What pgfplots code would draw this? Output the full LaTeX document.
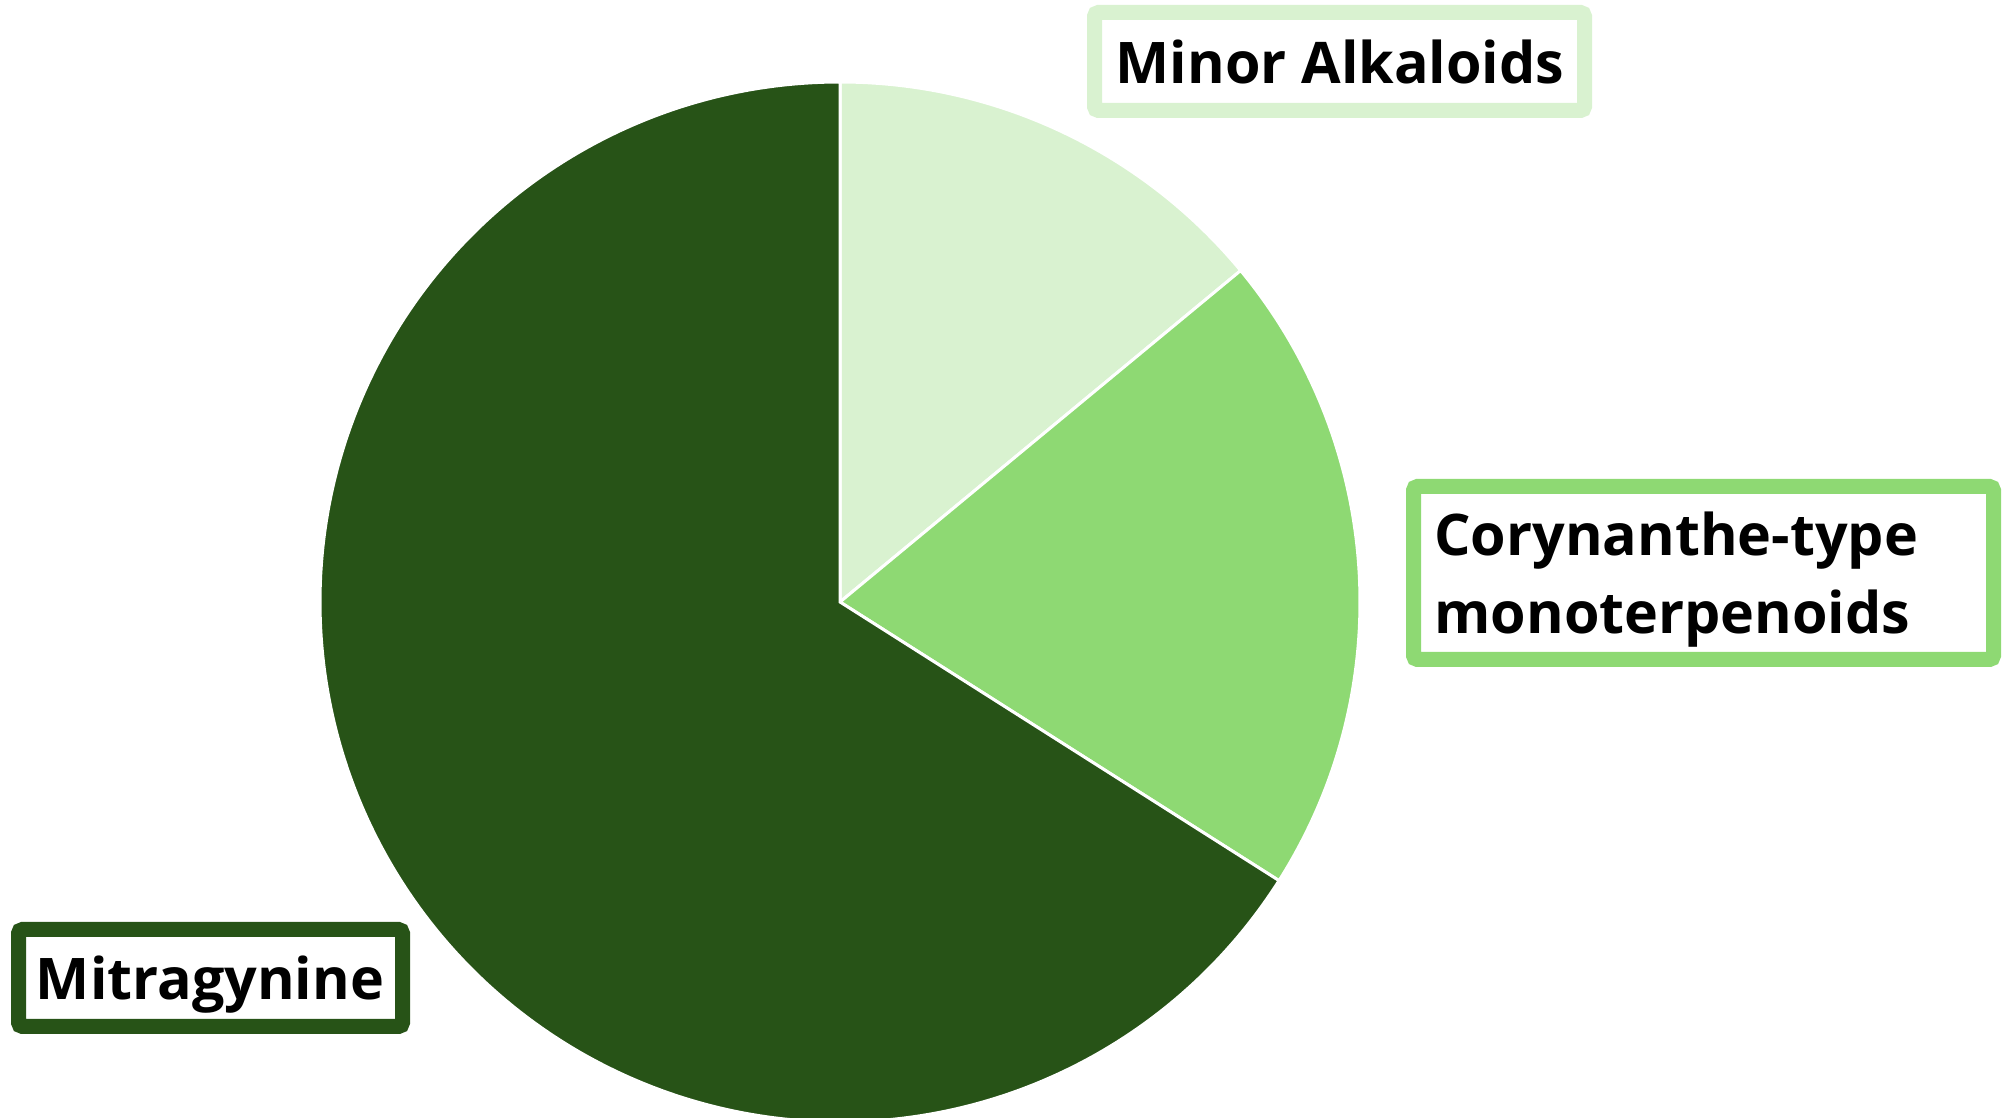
\documentclass[border=0pt]{standalone}
\usepackage{pgfplots}
\pgfplotsset{compat=1.18}
\usepackage{fontspec}
\setmainfont{Open Sans}
\definecolor{cLight}{HTML}{D9F2D0}
\definecolor{cMid}{HTML}{8ED973}
\definecolor{cDark}{HTML}{275317}
% slice values (percent), clockwise from 12 o'clock
\def\vA{14}% Minor Alkaloids
\def\vB{20}% Corynanthe-type monoterpenoids
\def\vC{66}% Mitragynine
\pgfmathsetmacro\aA{90}
\pgfmathsetmacro\aB{\aA-3.6*\vA}
\pgfmathsetmacro\aC{\aB-3.6*\vB}
\pgfmathsetmacro\aD{\aC-3.6*\vC}
\def\cx{840}\def\cy{516}\def\rr{520}
\begin{document}
\begin{tikzpicture}
\begin{axis}[
  scale only axis, width=1007.5pt, height=559pt,
  xmin=0, xmax=2015, ymin=0, ymax=1118,
  hide axis,
]
\addplot[fill=cLight, draw=white, line width=1.5pt, domain=\aB:\aA, samples=120]
  ({\cx+\rr*cos(x)},{\cy+\rr*sin(x)}) -- (axis cs:\cx,\cy) -- cycle;
\addplot[fill=cMid, draw=white, line width=1.5pt, domain=\aC:\aB, samples=160]
  ({\cx+\rr*cos(x)},{\cy+\rr*sin(x)}) -- (axis cs:\cx,\cy) -- cycle;
\addplot[fill=cDark, draw=white, line width=1.5pt, domain=\aD:\aC, samples=400]
  ({\cx+\rr*cos(x)},{\cy+\rr*sin(x)}) -- (axis cs:\cx,\cy) -- cycle;
% label boxes
\node[draw=cLight, line width=7.5pt, fill=white, rounded corners=2pt, inner sep=0pt,
      minimum width=245pt, minimum height=49pt] at (axis cs:1339.5,1056.5) {};
\node[draw=cMid, line width=7.5pt, fill=white, rounded corners=2pt, inner sep=0pt,
      minimum width=290pt, minimum height=86.5pt] at (axis cs:1703.5,545) {};
\node[draw=cDark, line width=7.5pt, fill=white, rounded corners=2pt, inner sep=0pt,
      minimum width=192pt, minimum height=48.5pt] at (axis cs:210.5,140) {};
% label texts
\node[anchor=base, inner sep=0pt, font=\fontsize{28.7pt}{36pt}\selectfont\bfseries] at (axis cs:1340,1034) {Minor Alkaloids};
\node[anchor=base west, inner sep=0pt, font=\fontsize{28.7pt}{36pt}\selectfont\bfseries] at (axis cs:1434,562) {Corynanthe-type};
\node[anchor=base west, inner sep=0pt, font=\fontsize{28.7pt}{36pt}\selectfont\bfseries] at (axis cs:1434,484) {monoterpenoids};
\node[anchor=base, inner sep=0pt, font=\fontsize{28.7pt}{36pt}\selectfont\bfseries] at (axis cs:210,118) {Mitragynine};
\end{axis}
\pgfresetboundingbox
\useasboundingbox (current axis.south west) rectangle (current axis.north east);
\end{tikzpicture}
\end{document}
